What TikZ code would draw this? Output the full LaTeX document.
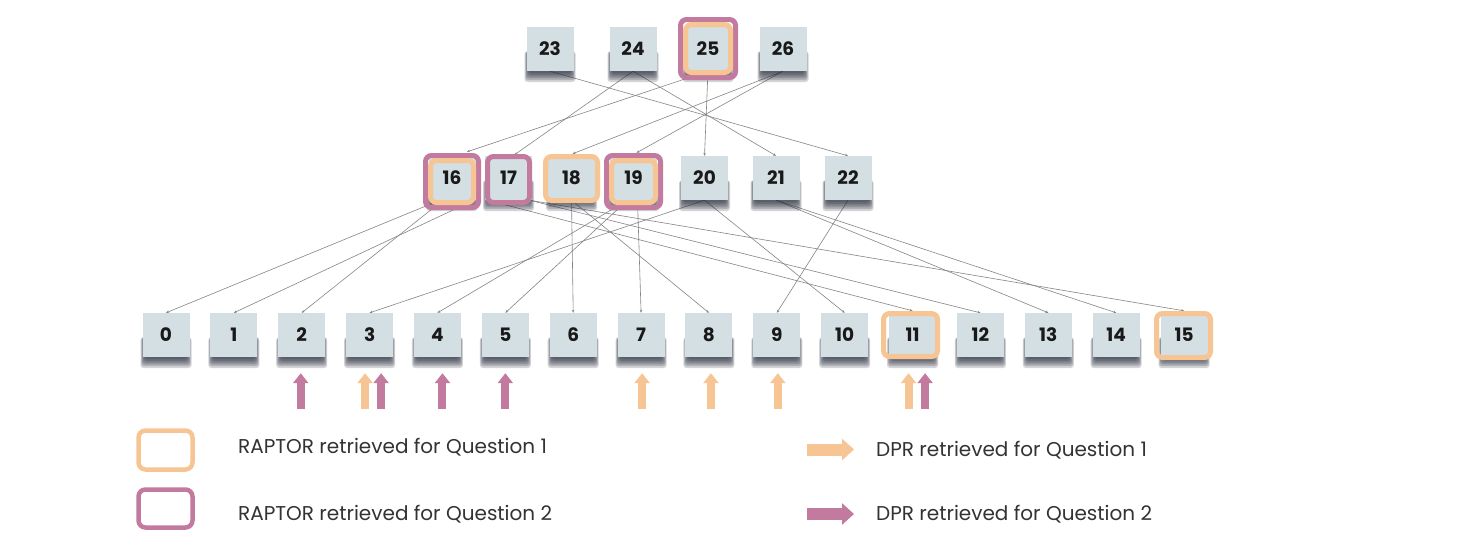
\documentclass[tikz,border=0pt]{standalone}
\usepackage{fontspec}
\newfontfamily\popfont{Poppins}
\usetikzlibrary{arrows.meta,calc}
\definecolor{boxblue}{HTML}{D3DFE3}
\definecolor{qone}{HTML}{F6C593}
\definecolor{qtwo}{HTML}{C27A9F}
\definecolor{edgegrey}{HTML}{858585}
\definecolor{txtgrey}{HTML}{333333}
\definecolor{shadowcol}{HTML}{232838}
\pgfdeclarelayer{bg}
\pgfdeclarelayer{shade}
\pgfsetlayers{bg,shade,main}
\begin{document}
\begin{tikzpicture}[x=1pt,y=-1pt,
  tbox/.style={rectangle, fill=boxblue, minimum width=47pt, minimum height=44pt, inner sep=0pt,
    font=\popfont\bfseries\fontsize{18.5}{18.5}\selectfont, text=black!90},
  shadowlayer/.style={fill=shadowcol, opacity=0.2, rounded corners=3pt},
  link/.style={draw=edgegrey, line width=0.6pt, -{Stealth[length=3pt,width=2.5pt]}},
  hlone/.style={draw=qone, line width=5pt, rounded corners=6pt},
  hltwo/.style={draw=qtwo, line width=5pt, rounded corners=6pt},
  dprone/.style={draw=qone, line width=8pt, -{Triangle[length=10pt,width=15pt]}},
  dprtwo/.style={draw=qtwo, line width=8pt, -{Triangle[length=10pt,width=15pt]}},
  legone/.style={draw=qone, line width=12pt, -{Triangle[length=12pt,width=21pt]}},
  legtwo/.style={draw=qtwo, line width=12pt, -{Triangle[length=12pt,width=21pt]}},
  legtext/.style={anchor=base west, inner sep=0pt, text=txtgrey, font=\popfont\fontsize{20}{20}\selectfont}
]
\begin{pgfonlayer}{bg}
\fill[white] (0,0) rectangle (1484,554);
\end{pgfonlayer}
\useasboundingbox (0,0) rectangle (1484,554);

% top layer
\node[tbox] (n23) at (550,49) {23};
\node[tbox] (n24) at (633,49) {24};
\node[tbox] (n25) at (708,49) {25};
\node[tbox] (n26) at (783,49) {26};
% middle layer
\node[tbox] (n16) at (452,178) {16};
\node[tbox] (n17) at (508.5,178) {17};
\node[tbox] (n18) at (571.5,178) {18};
\node[tbox] (n19) at (633.5,178) {19};
\node[tbox] (n20) at (704.5,178) {20};
\node[tbox] (n21) at (776,178) {21};
\node[tbox] (n22) at (848,178) {22};
% leaves
\foreach \i in {0,...,15}
  \node[tbox] (n\i) at ({166+67.87*\i},335) {\i};

% soft shadows below the boxes
\begin{pgfonlayer}{shade}
\foreach \n in {0,...,26}
  \foreach \k in {1,...,6}
    \fill[shadowlayer] ($(n\n.south west)+({3-0.8*\k},-20)$) rectangle ($(n\n.south east)+({0.8*\k-3},{1.8*\k})$);
\end{pgfonlayer}

% connectors
\begin{pgfonlayer}{bg}
\draw[link] (n23.south) -- (n22.north);
\draw[link] (n24.south) -- ($(n17.north)+(6,-1)$);
\draw[link] (n24.south) -- (n21.north);
\draw[link] (n25.south) -- ($(n16.north)+(15,-4)$);
\draw[link] (n25.south) -- (n20.north);
\draw[link] (n26.south) -- ($(n18.north)+(1,-2)$);
\draw[link] (n26.south) -- ($(n19.north)+(3,-3)$);

\draw[link] ($(n16.south)+(-12,0)$) -- (n0.north);
\draw[link] ($(n16.south)+(-9,0)$) -- (n2.north);
\draw[link] ($(n16.south)+(22,0)$) -- (n1.north);
\draw[link] ($(n17.south)+(-21,0)$) -- ($(n11.north)+(0,-2)$);
\draw[link] ($(n17.south)+(21,0)$) -- (n12.north);
\draw[link] ($(n17.south)+(21,0)$) -- ($(n15.north)+(0,-2)$);
\draw[link] (n18.south) -- (n6.north);
\draw[link] (n18.south) -- (n8.north);
\draw[link] ($(n19.south)+(-6,0)$) -- (n4.north);
\draw[link] ($(n19.south)+(-6,0)$) -- (n5.north);
\draw[link] ($(n19.south)+(4,0)$) -- (n7.north);
\draw[link] (n20.south) -- (n3.north);
\draw[link] (n20.south) -- (n10.north);
\draw[link] (n21.south) -- (n13.north);
\draw[link] (n21.south) -- (n14.north);
\draw[link] (n22.south) -- (n9.north);
\end{pgfonlayer}

% highlights
\draw[hltwo] (680.5,19.5) rectangle (735.5,77.5);
\draw[hlone] (685.5,24.5) rectangle (730.5,72.5);
\draw[hltwo] (425.5,155.5) rectangle (478.5,207.5);
\draw[hlone] (430.5,160.5) rectangle (473.5,202.5);
\draw[hltwo] (606.5,155.5) rectangle (660.5,207.5);
\draw[hlone] (611.5,160.5) rectangle (655.5,202.5);
\draw[hltwo] (487.5,156.5) rectangle (529.5,202.5);
\draw[hlone] (545.5,156.5) rectangle (597.5,200.5);
\draw[hlone] (883.5,313.5) rectangle (937.5,356.5);
\draw[hlone] (1156.5,313.5) rectangle (1210.5,357.5);

% DPR arrows
\draw[dprtwo] ($(n2.south)+(-1,52)$) -- ($(n2.south)+(-1,16)$);
\draw[dprone] ($(n3.south)+(-4.5,52)$) -- ($(n3.south)+(-4.5,16)$);
\draw[dprtwo] ($(n3.south)+(11.5,52)$) -- ($(n3.south)+(11.5,16)$);
\draw[dprtwo] ($(n4.south)+(5,52)$) -- ($(n4.south)+(5,16)$);
\draw[dprtwo] ($(n5.south)+(0,52)$) -- ($(n5.south)+(0,16)$);
\draw[dprone] ($(n7.south)+(1,52)$) -- ($(n7.south)+(1,16)$);
\draw[dprone] ($(n8.south)+(2,52)$) -- ($(n8.south)+(2,16)$);
\draw[dprone] ($(n9.south)+(1,52)$) -- ($(n9.south)+(1,16)$);
\draw[dprone] ($(n11.south)+(-4,52)$) -- ($(n11.south)+(-4,16)$);
\draw[dprtwo] ($(n11.south)+(12.5,52)$) -- ($(n11.south)+(12.5,16)$);

% legend
\draw[line width=4.5pt, draw=qone, rounded corners=7pt] (138.5,430.5) rectangle (192.5,469.5);
\draw[line width=4.5pt, draw=qtwo, rounded corners=7pt] (138.5,489.5) rectangle (192.5,527.5);
\node[legtext] (l1) at (238,453) {RAPTOR retrieved for Question 1};
\node[legtext] (l2) at (238,520) {RAPTOR retrieved for Question 2};
\coordinate (a1s) at (807,449.5);
\coordinate (a1e) at (854,449.5);
\coordinate (a2s) at (807,514);
\coordinate (a2e) at (854,514);
\draw[legone] (a1s) -- (a1e);
\draw[legtwo] (a2s) -- (a2e);
\node[legtext] (l3) at (876,456) {DPR retrieved for Question 1};
\node[legtext] (l4) at (876,520) {DPR retrieved for Question 2};
\end{tikzpicture}
\end{document}
